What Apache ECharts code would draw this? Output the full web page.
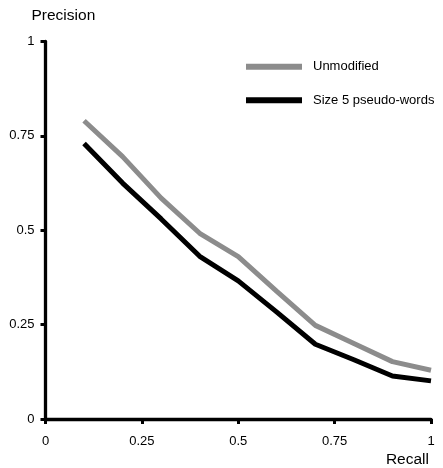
<!DOCTYPE html>
<html>
<head>
<meta charset="utf-8">
<script src="https://cdn.jsdelivr.net/npm/echarts@6/dist/echarts.min.js"></script>
<style>
  html, body { margin: 0; padding: 0; background: #fff; }
  #main { width: 443px; height: 468px; }
</style>
</head>
<body>
<div id="main"></div>
<script>
// recall levels on the x axis
var recall = [0.1, 0.2, 0.3, 0.4, 0.5, 0.6, 0.7, 0.8, 0.9, 1.0];
// precision
var unmodified = [0.79, 0.695, 0.585, 0.492, 0.43, 0.338, 0.248, 0.20, 0.152, 0.129];
var pseudoWords = [0.73, 0.625, 0.53, 0.431, 0.366, 0.283, 0.198, 0.157, 0.114, 0.101];
var seriesNames = ['Unmodified', 'Size 5 pseudo-words'];

function pairs(ys) {
  return recall.map(function (x, i) { return [x, ys[i]]; });
}

var font = 'Liberation Sans, Arial, Helvetica, sans-serif';
var axisCommon = {
  type: 'value',
  min: 0,
  max: 1,
  interval: 0.25,
  splitLine: { show: false },
  axisLine: { show: true, lineStyle: { color: '#000', width: 3.3 } },
  axisTick: { show: true, length: 5, lineStyle: { color: '#000', width: 3 } },
  axisLabel: { color: '#000', fontFamily: font, fontSize: 13 }
};

var chart = echarts.init(document.getElementById('main'));
chart.setOption({
  animation: false,
  backgroundColor: '#fff',
  grid: { left: 45.5, right: 12, top: 41.5, bottom: 42.5, containLabel: false },
  legend: {
    orient: 'vertical',
    left: 246,
    top: 60.3,
    padding: 0,
    itemWidth: 56,
    itemHeight: 6,
    itemGap: 20.4,
    icon: 'rect',
    data: seriesNames,
    textStyle: { color: '#000', fontFamily: font, fontSize: 13, padding: [0, 0, 0, 6] }
  },
  xAxis: Object.assign({}, axisCommon, {
    name: 'Recall',
    nameLocation: 'end',
    nameGap: 0,
    nameTextStyle: {
      color: '#000', fontFamily: font, fontSize: 15.5,
      align: 'right', verticalAlign: 'top', padding: [33, 2, 0, 0]
    },
    axisLabel: Object.assign({}, axisCommon.axisLabel, { margin: 16 })
  }),
  yAxis: Object.assign({}, axisCommon, {
    name: 'Precision',
    nameLocation: 'end',
    nameGap: 18,
    nameTextStyle: {
      color: '#000', fontFamily: font, fontSize: 15.5,
      align: 'left', padding: [0, 0, 0, -14]
    },
    axisLabel: Object.assign({}, axisCommon.axisLabel, { margin: 11 })
  }),
  series: [
    {
      name: seriesNames[0],
      type: 'line',
      data: pairs(unmodified),
      showSymbol: false,
      symbol: 'none',
      color: '#8c8c8c',
      lineStyle: { color: '#8c8c8c', width: 5 }
    },
    {
      name: seriesNames[1],
      type: 'line',
      data: pairs(pseudoWords),
      showSymbol: false,
      symbol: 'none',
      color: '#000',
      lineStyle: { color: '#000', width: 5 }
    }
  ]
});
</script>
</body>
</html>
